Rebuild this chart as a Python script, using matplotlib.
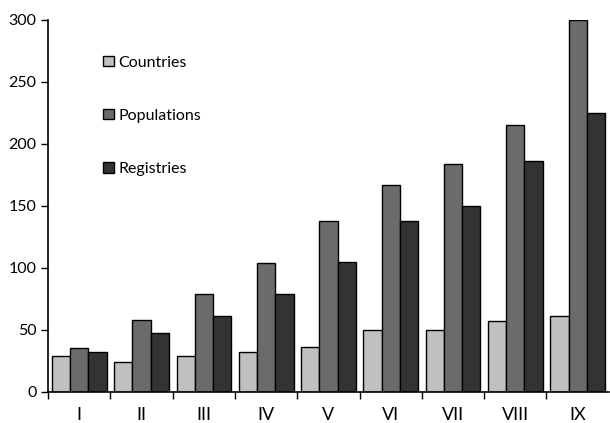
import numpy as np
import matplotlib
matplotlib.use("Agg")
import matplotlib.pyplot as plt

categorias = ["I", "II", "III", "IV", "V", "VI", "VII", "VIII", "IX"]
countries = [29, 24, 29, 32, 36, 50, 50, 57, 61]
populations = [35, 58, 79, 104, 138, 167, 184, 215, 300]
registries = [32, 47, 61, 79, 105, 138, 150, 186, 225]

plt.rcParams['font.family'] = ['Lato', 'DejaVu Sans']

fig = plt.figure(figsize=(6.1, 4.23), dpi=100)
ax = fig.add_axes([0.079, 0.074, 0.919, 0.879])

x = np.arange(len(categorias))
w = 0.293
series = [
    ("Countries", countries, "#c0c0c0"),
    ("Populations", populations, "#6b6b6b"),
    ("Registries", registries, "#333333"),
]
for i, (nombre, vals, color) in enumerate(series):
    ax.bar(x + (i - 1) * w, vals, width=w, color=color, edgecolor="black",
           linewidth=1.0, label=nombre)

ax.set_xlim(-0.5, 8.5)
ax.set_ylim(0, 300)
ax.set_yticks([0, 50, 100, 150, 200, 250, 300])
ax.set_xticks(x)
ax.set_xticklabels(categorias)
ax.set_xticks(np.arange(-0.5, 8.5, 1.0), minor=True)
ax.tick_params(axis="x", which="major", length=0, pad=11, labelsize=13)
ax.tick_params(axis="x", which="minor", length=5, width=1, direction="out")
ax.tick_params(axis="y", length=5, width=1, direction="out", labelsize=11.5)

ax.spines["top"].set_visible(False)
ax.spines["right"].set_visible(False)
ax.spines["left"].set_linewidth(1.2)
ax.spines["bottom"].set_linewidth(1.2)

ax.legend(loc="upper left", bbox_to_anchor=(0.098, 0.904), frameon=False,
          borderaxespad=0, borderpad=0,
          handlelength=0.65, handleheight=0.65, handletextpad=0.3,
          labelspacing=2.45, fontsize=11.5)

fig.savefig("out.png", dpi=100)
